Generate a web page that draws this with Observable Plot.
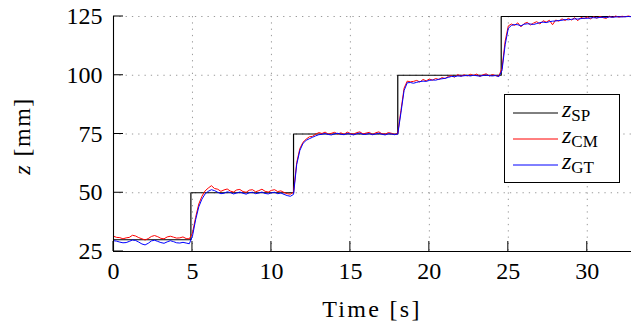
<!DOCTYPE html>
<html><head><meta charset="utf-8">
<script src="https://cdn.jsdelivr.net/npm/d3@7"></script>
<script src="https://cdn.jsdelivr.net/npm/@observablehq/plot@0.6"></script>
<style>
html,body{margin:0;padding:0;background:#fff;}
#chart{width:631px;height:326px;}
#chart svg text{font-family:"Liberation Serif","Times New Roman",serif !important;}
</style></head><body><div id="chart"></div>
<script>
// sample times [s]
const time = [
 0.0,0.2,0.4,0.6,0.8,1.0,1.2,1.4,1.6,1.8,2.0,2.2,2.4,2.6,2.8,3.0,3.2,3.4,3.6,3.8,4.0,4.2,4.4,4.6,4.8,
 5.0,5.2,5.4,5.6,5.8,6.0,6.2,6.4,6.6,6.8,7.0,7.2,7.4,7.6,7.8,8.0,8.2,8.4,8.6,8.8,9.0,9.2,9.4,9.6,9.8,10.0,10.2,10.4,10.6,10.8,11.0,11.2,11.4,
 11.6,11.8,12.0,12.2,12.4,12.6,12.8,13.0,13.2,13.4,13.6,13.8,14.0,14.2,14.4,14.6,14.8,15.0,15.2,15.4,15.6,15.8,16.0,16.2,16.4,16.6,16.8,17.0,17.2,17.4,17.6,17.8,18.0,
 18.2,18.4,18.6,18.8,19.0,19.2,19.4,19.6,19.8,20.0,20.2,20.4,20.6,20.8,21.0,21.2,21.4,21.6,21.8,22.0,22.2,22.4,22.6,22.8,23.0,23.2,23.4,23.6,23.8,24.0,24.2,24.4,
 24.6,24.8,25.0,25.2,25.4,25.6,25.8,26.0,26.2,26.4,26.6,26.8,27.0,27.2,27.4,27.6,27.8,28.0,28.2,28.4,28.6,28.8,29.0,29.2,29.4,29.6,29.8,30.0,30.2,30.4,30.6,30.8,31.0,31.2,31.4,31.6,31.8,32.0,32.2,32.4,32.6,32.8
];
// z_CM [mm]
const zCM = [
 31.5,31.0,30.9,30.4,30.8,31.0,31.9,31.6,30.9,30.4,29.9,30.5,31.4,31.8,31.3,30.6,30.4,31.2,31.5,31.1,30.7,30.8,31.2,30.5,30.4,
 32.8,39.5,45.2,48.5,50.8,52.0,53.0,51.8,51.5,50.6,51.2,51.6,50.7,50.3,51.2,51.4,50.5,50.2,51.1,51.3,50.4,50.9,51.5,50.6,50.3,51.0,51.3,50.5,50.8,50.1,49.6,49.4,50.2,
 62.8,68.8,71.5,72.8,73.8,74.0,74.9,75.6,75.2,75.8,74.9,75.3,75.7,75.0,75.5,74.8,75.8,75.2,74.9,75.6,75.9,75.0,75.4,75.7,74.8,75.5,75.9,75.1,74.9,75.6,75.3,74.8,75.3,
 85.0,94.5,97.5,97.2,97.4,97.8,97.1,98.2,97.6,98.4,97.9,98.6,98.2,99.0,98.6,99.5,99.8,99.2,100.3,99.6,100.2,99.7,100.4,99.9,100.5,99.5,100.2,100.6,99.7,100.3,99.8,99.6,
 103.0,114.5,121.0,121.8,121.2,122.3,120.6,122.0,122.5,121.4,122.2,122.8,121.8,123.2,122.6,123.4,121.5,123.5,123.0,124.0,123.3,124.2,123.5,124.5,123.2,124.6,124.1,124.8,124.0,124.9,124.3,125.0,124.5,124.2,125.1,124.6,125.2,124.7,125.1,124.9,125.2,124.9
];
// z_GT [mm]
const zGT = [
 29.6,29.4,29.0,28.7,28.8,29.3,29.9,29.7,29.0,28.2,27.8,28.5,29.5,29.8,29.3,28.8,28.5,29.1,29.6,29.2,28.7,28.6,28.9,28.6,28.3,
 31.5,38.5,44.0,47.3,49.5,50.6,51.3,50.9,50.2,49.6,49.8,50.4,50.1,49.5,49.9,50.3,49.8,49.4,50.0,50.2,49.6,49.9,50.3,49.7,49.5,50.0,50.2,49.6,49.9,49.3,48.8,48.5,49.3,
 62.0,68.0,71.0,72.3,73.0,73.6,74.2,74.7,74.9,75.2,74.8,74.6,75.1,75.3,74.9,74.7,75.2,75.0,74.6,75.1,75.4,74.8,74.9,75.2,74.7,75.0,75.3,74.9,74.6,75.1,75.0,74.7,75.0,
 84.0,93.5,96.8,96.9,96.6,97.0,97.3,97.5,97.4,97.8,98.0,97.9,98.3,98.5,98.7,99.1,99.5,99.4,99.7,99.6,99.8,99.9,99.7,100.0,99.8,99.6,99.9,100.1,99.8,99.7,99.9,99.4,
 102.0,113.0,120.0,121.2,121.6,121.5,121.0,121.7,121.9,121.8,121.6,122.0,122.4,122.6,122.4,122.8,123.0,123.1,123.3,123.4,123.7,123.6,123.8,124.0,123.9,124.1,124.3,124.2,124.4,124.5,124.4,124.6,124.7,124.6,124.8,124.7,124.8,124.9,124.8,124.9,125.0,124.9
];
// set point z_SP
const spTime = [0, 4.9, 11.4, 18.0, 24.55, 32.8];
const spZ = [30, 50, 75, 100, 125, 125];

const xTicks = [0, 5, 10, 15, 20, 25, 30];
const yTicks = [25, 50, 75, 100, 125];
const seriesNames = ["SP", "CM", "GT"];
const seriesColors = ["#000000", "#ff0000", "#0000ff"];

const sp = spTime.map((t, i) => ({t, z: spZ[i]}));
const cm = time.map((t, i) => ({t, z: zCM[i]}));
const gt = time.map((t, i) => ({t, z: zGT[i]}));

const FONT = "Liberation Serif, Times New Roman, serif";

const plot = Plot.plot({
  width: 631, height: 326,
  marginLeft: 113, marginRight: 0, marginTop: 16, marginBottom: 75,
  style: {fontFamily: FONT, fontSize: "24px", background: "#fff", color: "#000", overflow: "visible"},
  x: {domain: [0, 32.8], ticks: xTicks, tickSize: 0, tickPadding: 10, label: null},
  y: {domain: [25, 125], ticks: yTicks, tickSize: 0, tickPadding: 11, label: null},
  marks: [
    Plot.ruleX(xTicks.slice(1), {x: d => d, stroke: "#9a9a9a", strokeDasharray: "1.3,5"}),
    Plot.ruleY(yTicks.slice(1), {y: d => d, stroke: "#9a9a9a", strokeDasharray: "1.3,5"}),
    Plot.line(sp, {x: "t", y: "z", curve: "step-after", stroke: seriesColors[0], strokeWidth: 1.2}),
    Plot.line(cm, {x: "t", y: "z", stroke: seriesColors[1], strokeWidth: 1}),
    Plot.line(gt, {x: "t", y: "z", stroke: seriesColors[2], strokeWidth: 1}),
    Plot.ruleX([0], {stroke: "#000", strokeWidth: 1.1}),
    Plot.ruleY([25], {stroke: "#000", strokeWidth: 1.1})
  ]
});

document.getElementById("chart").appendChild(plot);

const svg = d3.select(plot);
const sx = plot.scale("x"), sy = plot.scale("y");
const x0 = sx.apply(0), y0 = sy.apply(25);

// inward major ticks
const tg = svg.append("g").attr("stroke", "#000").attr("stroke-width", 1);
xTicks.forEach(v => tg.append("line").attr("x1", sx.apply(v)).attr("x2", sx.apply(v)).attr("y1", y0).attr("y2", y0 - 10));
yTicks.forEach(v => tg.append("line").attr("x1", x0).attr("x2", x0 + 10).attr("y1", sy.apply(v)).attr("y2", sy.apply(v)));

// axis labels
svg.append("text").attr("x", (x0 + 631) / 2).attr("y", 317).attr("text-anchor", "middle")
  .attr("font-size", 24).attr("letter-spacing", 2.3).attr("fill", "#000").text("Time [s]");
const yl = svg.append("text").attr("transform", "translate(30,136) rotate(-90)").attr("text-anchor", "middle")
  .attr("font-size", 24).attr("letter-spacing", 1.5).attr("fill", "#000");
yl.append("tspan").attr("font-style", "italic").text("z");
yl.append("tspan").text(" [mm]");

// legend
const lg = svg.append("g");
lg.append("rect").attr("x", 504.5).attr("y", 94.5).attr("width", 115).attr("height", 88)
  .attr("fill", "#fff").attr("stroke", "#000").attr("stroke-width", 1);
seriesNames.forEach((name, i) => {
  const cy = 113 + i * 26;
  lg.append("line").attr("x1", 513).attr("x2", 558).attr("y1", cy).attr("y2", cy)
    .attr("stroke", seriesColors[i]).attr("stroke-width", 1);
  const t = lg.append("text").attr("x", 562).attr("y", cy + 4).attr("text-anchor", "start").attr("fill", "#000");
  t.append("tspan").attr("font-style", "italic").attr("font-size", 24).text("z");
  t.append("tspan").attr("font-size", 17).attr("dy", 4).text(name);
});
</script></body></html>
